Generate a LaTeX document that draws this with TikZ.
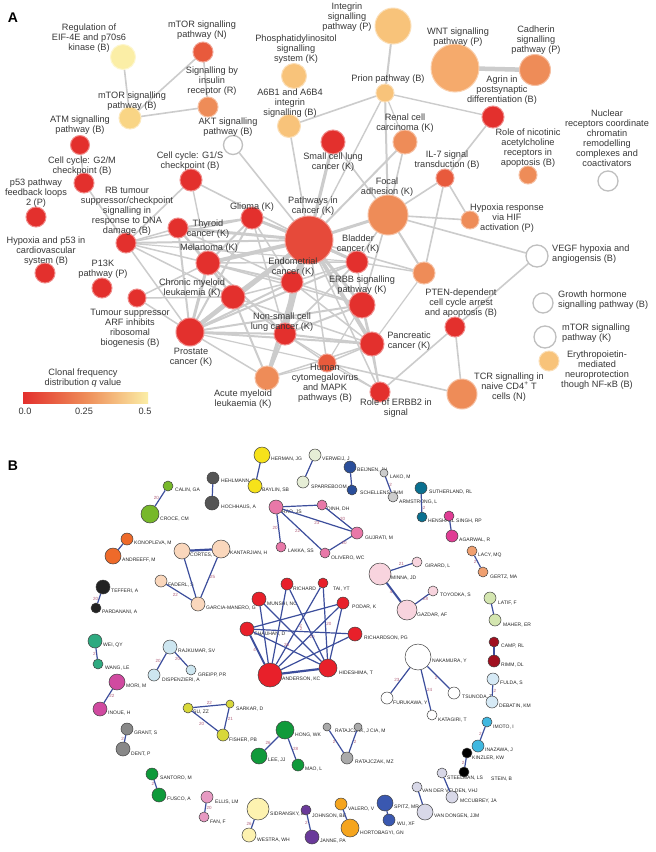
\documentclass[tikz,border=0pt]{standalone}
\usepackage{fontspec}
\setmainfont{Liberation Sans}
\usetikzlibrary{backgrounds}
\definecolor{q0}{HTML}{E3302D}
\definecolor{qP}{HTML}{E64A3A}
\definecolor{q1}{HTML}{E85A3C}
\definecolor{q2}{HTML}{EE8C58}
\definecolor{q3}{HTML}{F5AA6C}
\definecolor{q4}{HTML}{F8C37A}
\definecolor{q5}{HTML}{F9D585}
\definecolor{q6}{HTML}{FBEEA6}
\definecolor{bblue}{HTML}{3C4E9C}
\definecolor{elred}{HTML}{B0607A}
\definecolor{cgreen}{HTML}{77B82A}
\definecolor{cdgray}{HTML}{555555}
\definecolor{corred}{HTML}{EE6A2A}
\definecolor{cpeach}{HTML}{FAD7BC}
\definecolor{cblack}{HTML}{222222}
\definecolor{cteal}{HTML}{2EAA80}
\definecolor{clblue}{HTML}{CDE6F0}
\definecolor{cmag}{HTML}{D04AA0}
\definecolor{cgray}{HTML}{888888}
\definecolor{cgreen2}{HTML}{0E9A3A}
\definecolor{cpink}{HTML}{E79AC2}
\definecolor{cyg}{HTML}{D8D83A}
\definecolor{cyellow}{HTML}{F6E21A}
\definecolor{cpalegreen}{HTML}{E6EED6}
\definecolor{cdblue}{HTML}{2A4E9A}
\definecolor{clgray}{HTML}{CCCCCC}
\definecolor{cteal2}{HTML}{0A7090}
\definecolor{chot}{HTML}{E03C94}
\definecolor{cpink2}{HTML}{E878A8}
\definecolor{cred}{HTML}{E8202A}
\definecolor{clpink}{HTML}{F8D4DE}
\definecolor{cpeach2}{HTML}{F0A070}
\definecolor{clgreen}{HTML}{D4E6B0}
\definecolor{cdred}{HTML}{A01020}
\definecolor{clblue2}{HTML}{D6EAF6}
\definecolor{ccyan}{HTML}{40B8E0}
\definecolor{clav}{HTML}{D8D8E8}
\definecolor{cgreen3}{HTML}{109A3A}
\definecolor{cgray2}{HTML}{AAAAAA}
\definecolor{cpaley}{HTML}{FDF2B0}
\definecolor{cpurple}{HTML}{6A3A9A}
\definecolor{corange}{HTML}{F5A51E}
\definecolor{cblue}{HTML}{3A58B0}
\begin{document}
\begin{tikzpicture}[x=1pt,y=-1pt,
  pa/.style={circle,inner sep=0pt,fill=#1,draw=#1!55!white,line width=1pt},
  pw/.style={circle,inner sep=0pt,fill=white,draw=black!25,line width=1.3pt},
  dia/.style={minimum size=#1pt},
  la/.style={font=\fontsize{9.2}{10}\selectfont,align=center,inner sep=0pt,text=black!78},
  ae/.style={draw=black!20,line cap=round},
  bc/.style={circle,inner sep=0pt,fill=#1,draw=black!75,line width=0.5pt},
  bl/.style={font=\fontsize{5}{6}\selectfont,anchor=west,inner sep=0pt,text=black!85},
  be/.style={draw=bblue,line width=1.2pt},
  el/.style={font=\fontsize{4.5}{5}\selectfont,text=elred,inner sep=0.5pt}
]
\path[use as bounding box] (0,0) rectangle (656,852);
\node[font=\bfseries\fontsize{14}{14}\selectfont] (lA) at (13,18) {A};
\node[font=\bfseries\fontsize{14}{14}\selectfont] (lB) at (13,466) {B};

% ---------- Panel A nodes ----------
\node[pa=q6,dia=25] (eif) at (123,57) {};
\node[pa=q1,dia=20] (mtorn) at (203,52) {};
\node[pa=q2,dia=20] (ins) at (208,107) {};
\node[pa=q5,dia=22] (mtorb) at (130,118) {};
\node[pa=q0,dia=19] (atm) at (80,145) {};
\node[pa=q0,dia=20] (g2m) at (84,183) {};
\node[pa=q0,dia=20] (p53) at (36,217) {};
\node[pa=q0,dia=20] (rb) at (126,243) {};
\node[pa=q0,dia=22] (g1s) at (191,180) {};
\node[pw,dia=19] (akt) at (233,145) {};
\node[pa=q4,dia=25] (phos) at (294,76) {};
\node[pa=q4,dia=36] (integ) at (393,26) {};
\node[pa=q4,dia=23] (a6b1) at (289,126) {};
\node[pa=q4,dia=18] (prion) at (385,93) {};
\node[pa=q0,dia=24] (small) at (333,142) {};
\node[pa=q2,dia=24] (renal) at (405,142) {};
\node[pa=q3,dia=48] (wnt) at (455,68) {};
\node[pa=q2,dia=31] (cad) at (535,70) {};
\node[pa=q0,dia=22] (agrin) at (493,117) {};
\node[pa=q2,dia=18] (nic) at (528,175) {};
\node[pw,dia=20] (nuc) at (608,181) {};
\node[pa=q1,dia=18] (il7) at (445,178) {};
\node[pa=q2,dia=18] (hif) at (470,220) {};
\node[pa=q2,dia=40] (focal) at (388,215) {};
\node[pa=qP,dia=48] (path) at (309,240) {};
\node[pa=q0,dia=22] (glioma) at (252,218) {};
\node[pa=q0,dia=20] (thyroid) at (178,228) {};
\node[pa=q0,dia=24] (melan) at (208,263) {};
\node[pa=q0,dia=20] (hyp53) at (45,273) {};
\node[pa=q0,dia=20] (p13k) at (102,288) {};
\node[pa=q0,dia=18] (arf) at (137,298) {};
\node[pa=q0,dia=24] (cml) at (233,297) {};
\node[pa=q0,dia=28] (prost) at (190,332) {};
\node[pa=q0,dia=22] (endo) at (292,282) {};
\node[pa=q0,dia=22] (blad) at (357,262) {};
\node[pa=q0,dia=26] (erbb) at (362,305) {};
\node[pa=q0,dia=22] (nsclc) at (285,334) {};
\node[pa=q0,dia=24] (panc) at (372,344) {};
\node[pa=q1,dia=18] (hcmv) at (327,363) {};
\node[pa=q2,dia=24] (aml) at (267,378) {};
\node[pa=q0,dia=20] (erbb2) at (380,392) {};
\node[pa=q2,dia=22] (pteno) at (424,273) {};
\node[pa=q0,dia=20] (pten) at (455,327) {};
\node[pw,dia=22] (vegf) at (537,256) {};
\node[pw,dia=20] (gh) at (543,303) {};
\node[pw,dia=22] (mtork) at (545,337) {};
\node[pa=q4,dia=20] (epo) at (549,361) {};
\node[pa=q2,dia=30] (tcr) at (462,394) {};

% ---------- Panel A edges ----------
\begin{scope}[on background layer]
\fill[white] (0,0) rectangle (656,852);
\foreach \a/\b/\w in {eif/mtorb/1.6pt, mtorn/mtorb/1.6pt, mtorn/ins/1.6pt, mtorb/ins/1.6pt,
  atm/g2m/1.6pt, g2m/rb/1.6pt, g1s/rb/1.6pt, g1s/path/1.6pt, g1s/melan/1.4pt,
  akt/path/1.6pt, a6b1/path/1.6pt, a6b1/prion/1.6pt, integ/prion/2pt, prion/path/1.4pt,
  prion/focal/2pt, prion/agrin/1.4pt, prion/renal/1.2pt, small/path/3.2pt, small/focal/1.6pt,
  renal/path/2pt, renal/focal/1.6pt, focal/path/3pt, focal/il7/1.6pt, focal/hif/1.6pt,
  focal/vegf/1.6pt, focal/pteno/2pt, focal/erbb/1.6pt, focal/blad/1.6pt,
  agrin/il7/1.6pt, il7/hif/1.6pt, il7/pteno/1.6pt, wnt/cad/4.5pt, vegf/pten/1.6pt,
  pten/tcr/1.6pt, pten/erbb2/1.6pt, tcr/hcmv/1.6pt, pteno/path/1.6pt, pteno/blad/1.4pt,
  pteno/panc/1.2pt,
  path/glioma/3pt, path/thyroid/3pt, path/melan/4pt, path/cml/4pt, path/prost/4.5pt,
  path/endo/3pt, path/blad/3pt, path/erbb/3pt, path/nsclc/3pt, path/panc/4pt, path/aml/4pt,
  path/rb/2pt, path/hcmv/1.5pt, path/erbb2/1.5pt,
  prost/melan/3pt, prost/cml/3pt, prost/thyroid/2pt, prost/glioma/2pt, prost/endo/2pt,
  prost/nsclc/2pt, prost/erbb/2pt, prost/panc/2pt, prost/blad/2pt, prost/aml/1.5pt,
  prost/rb/1.5pt, prost/arf/1.5pt, prost/hcmv/1.2pt,
  rb/melan/1.5pt, rb/thyroid/1.5pt, rb/glioma/1.5pt, rb/cml/1.5pt, rb/blad/1.2pt,
  melan/glioma/2pt, melan/endo/2pt, melan/nsclc/2pt, melan/blad/1.5pt, melan/cml/2pt,
  melan/thyroid/2pt, melan/erbb/1.5pt,
  cml/aml/2pt, cml/panc/1.5pt, cml/nsclc/1.5pt, cml/endo/1.5pt, cml/arf/1.5pt,
  glioma/thyroid/2pt, glioma/endo/1.5pt, glioma/nsclc/1.5pt, glioma/blad/1.5pt,
  thyroid/endo/1.5pt, thyroid/cml/1.5pt,
  endo/nsclc/2pt, endo/erbb/1.5pt, endo/blad/1.5pt, endo/panc/1.5pt,
  blad/erbb/1.5pt, blad/nsclc/1.5pt,
  erbb/panc/2pt, erbb/nsclc/2pt, erbb/erbb2/1.5pt, erbb/hcmv/1.2pt,
  nsclc/panc/2pt, nsclc/aml/2pt, nsclc/hcmv/1.5pt, nsclc/erbb2/1.2pt,
  panc/erbb2/1.5pt, panc/hcmv/1.5pt, panc/aml/1.5pt,
  hcmv/aml/1.2pt, hcmv/erbb2/1.2pt, arf/melan/1.5pt}
  {\draw[ae,line width=\w] (\a) -- (\b);}
\end{scope}

% ---------- Panel A labels ----------
\node[la] (l-eif) at (89,38) {Regulation of\\EIF-4E and p70s6\\kinase (B)};
\node[la] (l-mtorn) at (202,30) {mTOR signalling\\pathway (N)};
\node[la] (l-ins) at (212,81) {Signalling by\\insulin\\receptor (R)};
\node[la] (l-mtorb) at (132,101) {mTOR signalling\\pathway (B)};
\node[la] (l-atm) at (80,125) {ATM signalling\\pathway (B)};
\node[la] (l-g2m) at (82,166) {Cell cycle: G2/M\\checkpoint (B)};
\node[la] (l-p53) at (36,193) {p53 pathway\\feedback loops\\2 (P)};
\node[la] (l-rb) at (127,211) {RB tumour\\suppressor/checkpoint\\signalling in\\response to DNA\\damage (B)};
\node[la] (l-g1s) at (190,161) {Cell cycle: G1/S\\checkpoint (B)};
\node[la] (l-akt) at (228,127) {AKT signalling\\pathway (B)};
\node[la] (l-phos) at (296,49) {Phosphatidylinositol\\signalling\\system (K)};
\node[la] (l-integ) at (347,17) {Integrin\\signalling\\pathway (P)};
\node[la] (l-a6b1) at (290,103) {A6B1 and A6B4\\integrin\\signalling (B)};
\node[la] (l-prion) at (388,79) {Prion pathway (B)};
\node[la] (l-small) at (333,162) {Small cell lung\\cancer (K)};
\node[la] (l-renal) at (405,123) {Renal cell\\carcinoma (K)};
\node[la] (l-wnt) at (458,37) {WNT signalling\\pathway (P)};
\node[la] (l-cad) at (536,40) {Cadherin\\signalling\\pathway (P)};
\node[la] (l-agrin) at (502,90) {Agrin in\\postsynaptic\\differentiation (B)};
\node[la] (l-nic) at (528,148) {Role of nicotinic\\acetylcholine\\receptors in\\apoptosis (B)};
\node[la] (l-nuc) at (607,138) {Nuclear\\receptors coordinate\\chromatin\\remodelling\\complexes and\\coactivators};
\node[la] (l-il7) at (447,160) {IL-7 signal\\transduction (B)};
\node[la] (l-hif) at (507,218) {Hypoxia response\\via HIF\\activation (P)};
\node[la] (l-focal) at (387,187) {Focal\\adhesion (K)};
\node[la] (l-path) at (313,206) {Pathways in\\cancer (K)};
\node[la] (l-glioma) at (252,207) {Glioma (K)};
\node[la] (l-thyroid) at (208,229) {Thyroid\\cancer (K)};
\node[la] (l-melan) at (209,248) {Melanoma (K)};
\node[la] (l-hyp53) at (46,251) {Hypoxia and p53 in\\cardiovascular\\system (B)};
\node[la] (l-p13k) at (103,269) {P13K\\pathway (P)};
\node[la] (l-arf) at (130,328) {Tumour suppressor\\ARF inhibits\\ribosomal\\biogenesis (B)};
\node[la] (l-cml) at (192,288) {Chronic myeloid\\leukaemia (K)};
\node[la] (l-prost) at (191,357) {Prostate\\cancer (K)};
\node[la] (l-endo) at (293,267) {Endometrial\\cancer (K)};
\node[la] (l-blad) at (358,244) {Bladder\\cancer (K)};
\node[la] (l-erbb) at (362,285) {ERBB signalling\\pathway (K)};
\node[la] (l-nsclc) at (282,322) {Non-small cell\\lung cancer (K)};
\node[la] (l-panc) at (409,341) {Pancreatic\\cancer (K)};
\node[la] (l-hcmv) at (325,383) {Human\\cytomegalovirus\\and MAPK\\pathways (B)};
\node[la] (l-aml) at (243,399) {Acute myeloid\\leukaemia (K)};
\node[la] (l-erbb2) at (396,408) {Role of ERBB2 in\\signal};
\node[la] (l-pten) at (461,303) {PTEN-dependent\\cell cycle arrest\\and apoptosis (B)};
\node[la,align=left,anchor=west] (l-vegf) at (552,254) {VEGF hypoxia and\\angiogensis (B)};
\node[la,align=left,anchor=west] (l-gh) at (558,300) {Growth hormone\\signalling pathway (B)};
\node[la,align=left,anchor=west] (l-mtork) at (562,333) {mTOR signalling\\pathway (K)};
\node[la] (l-epo) at (597,370) {Erythropoietin-\\mediated\\neuroprotection\\though NF-κB (B)};
\node[la] (l-tcr) at (509,387) {TCR signalling in\\naive CD4\textsuperscript{+} T\\cells (N)};

% ---------- colour bar ----------
\node[la] (cbt) at (83,378) {Clonal frequency\\distribution \textit{q} value};
\shade[left color=q0, right color=q6, middle color=q2] (23,392) rectangle (148,403);
\node[la] (cb0) at (25,411) {0.0};
\node[la] (cb1) at (84,411) {0.25};
\node[la] (cb2) at (145,411) {0.5};

% ---------- Panel B nodes ----------
\foreach \n/\x/\y/\d/\c/\t/\lx/\ly in {
 hehl/213/478/12/cdgray/{HEHLMANN, R}/221/481,
 hoch/212/503/14/cdgray/{HOCHHAUS, A}/221/507,
 calin/168/486/10/cgreen/{CALIN, GA}/175/490,
 croce/150/514/18/cgreen/{CROCE, CM}/160/519,
 kono/127/539/12/corred/{KONOPLEVA, M}/134/543,
 andr/113/556/16/corred/{ANDREEFF, M}/122/560,
 cort/182/551/16/cpeach/{CORTES, J}/190/555,
 kant/221/549/18/cpeach/{KANTARJIAN, H}/230/553,
 fad/161/581/12/cpeach/{FADERL, S}/168/585,
 garc/198/604/14/cpeach/{GARCIA-MANERO, G}/206/608,
 teff/103/587/14/cblack/{TEFFERI, A}/111/591,
 pard/96/608/10/cblack/{PARDANANI, A}/102/612,
 wei/95/641/14/cteal/{WEI, QY}/103/645,
 wang/98/664/10/cteal/{WANG, LE}/105/668,
 raj/170/647/14/clblue/{RAJKUMAR, SV}/178/651,
 disp/154/675/12/clblue/{DISPENZIERI, A}/162/680,
 greipp/191/670/10/clblue/{GREIPP, PR}/198/675,
 mori/117/682/16/cmag/{MORI, M}/126/686,
 inoue/100/709/14/cmag/{INOUE, H}/108/713,
 grant/127/729/12/cgray/{GRANT, S}/134/733,
 dent/123/749/14/cgray/{DENT, P}/131/754,
 sant/152/774/12/cgreen2/{SANTORO, M}/160/778,
 fusco/159/795/14/cgreen2/{FUSCO, A}/167/799,
 ellis/207/797/12/cpink/{ELLIS, LM}/215/802,
 fan/204/817/10/cpink/{FAN, F}/210/822,
 su/188/708/10/cyg/{SU, ZZ}/193/712,
 sark/230/704/8/cyg/{SARKAR, D}/236/709,
 fish/223/735/12/cyg/{FISHER, PB}/229/740,
 herm/262/455/16/cyellow/{HERMAN, JG}/271/459,
 bayl/255/486/14/cyellow/{BAYLIN, SB}/262/490,
 verw/315/455/12/cpalegreen/{VERWEIJ, J}/322/459,
 sparr/303/482/12/cpalegreen/{SPARREBOOM, A}/311/487,
 beij/350/467/12/cdblue/{BEIJNEN, JH}/357/470,
 schel/352/490/10/cdblue/{SCHELLENS, JHM}/360/493,
 lako/384/473/8/clgray/{LAKO, M}/390/477,
 arms/393/497/10/clgray/{ARMSTRONG, L}/399/502,
 suth/421/488/12/cteal2/{SUTHERLAND, RL}/429/492,
 hensh/422/517/10/cteal2/{HENSHALL}/428/521,
 singh/449/516/10/chot/{SINGH, RP}/456/521,
 agar/452/536/12/chot/{AGARWAL, R}/459/540,
 lacy/472/551/10/cpeach2/{LACY, MQ}/478/555,
 gertz/483/572/10/cpeach2/{GERTZ, MA}/490/577,
 rao/276/507/14/cpink2/{RAO, JS}/282/512,
 dinh/322/505/10/cpink2/{DINH, DH}/327/509,
 guj/357/533/12/cpink2/{GUJRATI, M}/365/538,
 lakka/281/547/10/cpink2/{LAKKA, SS}/288/551,
 oliv/325/553/10/cpink2/{OLIVERO, WC}/331/558,
 minna/380/574/22/clpink/{MINNA, JD}/391/578,
 girard/417/562/10/clpink/{GIRARD, L}/425/566,
 toyo/433/591/10/clpink/{TOYODKA, S}/440/595,
 gazd/407/610/20/clpink/{GAZDAR, AF}/417/615,
 rich/287/584/12/cred/{RICHARD}/293/589,
 tai/323/583/10/cred/{TAI, YT}/333/589,
 munshi/259/599/14/cred/{MUNSHI, NC}/267/604,
 podar/343/603/12/cred/{PODAR, K}/352/607,
 chau/247/629/14/cred/{CHAUHAN, D}/254/634,
 richp/355/634/14/cred/{RICHARDSON, PG}/364/638,
 ander/270/675/24/cred/{ANDERSON, KC}/282/679,
 hide/328/668/18/cred/{HIDESHIMA, T}/339/673,
 naka/418/657/26/white/{NAKAMURA, Y}/432/661,
 furu/387/698/12/white/{FURUKAWA, Y}/393/703,
 kata/432/715/10/white/{KATAGIRI, T}/438/720,
 tsun/454/693/12/white/{TSUNODA, T}/462/697,
 latif/490/598/12/clgreen/{LATIF, F}/498/603,
 maher/495/620/12/clgreen/{MAHER, ER}/503/625,
 camp/494/642/10/cdred/{CAMP, RL}/501/646,
 rimm/494/661/12/cdred/{RIMM, DL}/501/665,
 fulda/493/679/12/clblue2/{FULDA, S}/500/683,
 debat/492/702/12/clblue2/{DEBATIN, KM}/499/706,
 imoto/487/722/10/ccyan/{IMOTO, I}/493/727,
 inaz/478/746/12/ccyan/{INAZAWA, J}/485/750,
 kinz/467/753/10/black/{KINZLER, KW}/472/758,
 vogel/464/772/10/black/{STEIN, B}/491/779,
 steel/442/773/10/clav/{STEELMAN, LS}/447/778,
 vdv/417/787/10/clav/{VAN DER VELDEN, VHJ}/422/791,
 mccub/452/797/12/clav/{MCCUBREY, JA}/460/801,
 vdong/425/812/16/clav/{VAN DONGEN, JJM}/434/816,
 hong/285/730/18/cgreen3/{HONG, WK}/295/735,
 lee/259/756/16/cgreen3/{LEE, JJ}/268/760,
 mao/298/765/12/cgreen3/{MAO, L}/305/769,
 ratj/327/727/8/cgray2/{RATAJCZAK, J}/335/731,
 kucia/358/727/8/cgray2/{CIA, M}/370/731,
 ratmz/347/758/12/cgray2/{RATAJCZAK, MZ}/355/762,
 sidr/258/809/22/cpaley/{SIDRANSKY, D}/270/814,
 westra/249/835/14/cpaley/{WESTRA, WH}/257/840,
 john/306/810/10/cpurple/{JOHNSON, BE}/312/816,
 janne/312/837/14/cpurple/{JANNE, PA}/320/841,
 valero/341/804/12/corange/{VALERO, V}/348/809,
 horto/350/828/18/corange/{HORTOBAGYI, GN}/360/833,
 spitz/385/803/16/cblue/{SPITZ, MR}/394/807,
 wu/389/820/12/cblue/{WU, XF}/397/824}
 {\node[bc=\c,dia=\d] (\n) at (\x,\y) {};
  \node[bl] (l-\n) at (\lx,\ly) {\t};}

% ---------- Panel B edges ----------
\draw[be] (hehl) -- (hoch);
\draw[be] (calin) -- node[el,left]{20} (croce);
\draw[be] (kono) -- (andr);
\draw[be,line width=2.2pt] (cort) -- (kant);
\draw[be] (cort) -- (garc);
\draw[be] (fad) -- node[el,below left]{22} (garc);
\draw[be] (kant) -- node[el,right]{25} (garc);
\draw[be] (teff) -- node[el,left]{20} (pard);
\draw[be] (wei) -- node[el,left]{2} (wang);
\draw[be] (raj) -- node[el,left]{20} (disp);
\draw[be] (raj) -- node[el,left]{20} (greipp);
\draw[be] (mori) -- node[el,right]{22} (inoue);
\draw[be] (grant) -- node[el,left]{2} (dent);
\draw[be] (sant) -- node[el,left]{2} (fusco);
\draw[be] (ellis) -- node[el,right]{20} (fan);
\draw[be] (su) -- node[el,above]{22} (sark);
\draw[be] (su) -- node[el,below left]{20} (fish);
\draw[be] (sark) -- node[el,right]{21} (fish);
\draw[be] (herm) -- (bayl);
\draw[be] (verw) -- (sparr);
\draw[be] (beij) -- (schel);
\draw[be] (lako) -- node[el,right]{2} (arms);
\draw[be] (suth) -- node[el,right,pos=.78]{2} (hensh);
\draw[be] (singh) -- (agar);
\draw[be] (lacy) -- node[el,left]{2} (gertz);
\draw[be] (rao) -- (dinh);
\draw[be] (rao) -- node[el,below]{23} (guj);
\draw[be] (rao) -- node[el,left]{20} (lakka);
\draw[be] (rao) -- node[el,left]{22} (oliv);
\draw[be] (dinh) -- node[el,right]{20} (guj);
\draw[be] (guj) -- node[el,right]{20} (oliv);
\draw[be] (minna) -- node[el,above]{21} (girard);
\draw[be,line width=2pt] (minna) -- node[el,left]{4} (gazd);
\draw[be] (gazd) -- node[el,right]{28} (toyo);
\draw[be] (ander) -- (munshi);
\draw[be,line width=2pt] (ander) -- node[el,left]{4} (chau);
\draw[be] (ander) -- (rich);
\draw[be] (ander) -- node[el,right]{2} (tai);
\draw[be] (ander) -- node[el,right]{20} (podar);
\draw[be] (ander) -- (richp);
\draw[be,line width=2.2pt] (ander) -- (hide);
\draw[be] (hide) -- node[el,above]{26} (chau);
\draw[be] (hide) -- (munshi);
\draw[be] (hide) -- (rich);
\draw[be] (hide) -- node[el,right]{20} (tai);
\draw[be] (hide) -- (podar);
\draw[be] (chau) -- (podar);
\draw[be] (chau) -- node[el,above]{2} (richp);
\draw[be] (naka) -- node[el,left]{23} (furu);
\draw[be] (naka) -- node[el,right]{24} (kata);
\draw[be] (naka) -- node[el,left]{2} (tsun);
\draw[be] (latif) -- (maher);
\draw[be] (camp) -- (rimm);
\draw[be] (fulda) -- node[el,right]{2} (debat);
\draw[be] (imoto) -- node[el,left]{2} (inaz);
\draw[be] (kinz) -- node[el,left]{2} (vogel);
\draw[be] (steel) -- (mccub);
\draw[be] (vdv) -- (vdong);
\draw[be] (hong) -- node[el,left]{26} (lee);
\draw[be] (hong) -- node[el,right]{28} (mao);
\draw[be] (ratj) -- node[el,left]{2} (ratmz);
\draw[be] (kucia) -- node[el,right]{2} (ratmz);
\draw[be] (sidr) -- node[el,left]{26} (westra);
\draw[be] (john) -- node[el,left]{2} (janne);
\draw[be] (valero) -- (horto);
\draw[be] (spitz) -- (wu);
\end{tikzpicture}
\end{document}
